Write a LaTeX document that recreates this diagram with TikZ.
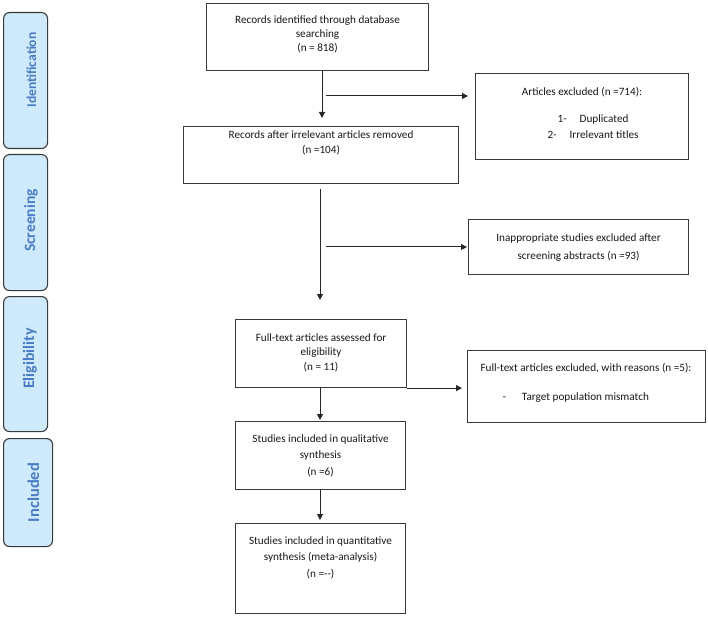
\documentclass[tikz,border=0pt]{standalone}
\usepackage{fontspec}
\setmainfont{Carlito}
\usetikzlibrary{arrows.meta}
\definecolor{phasefill}{HTML}{CFEAFB}
\definecolor{phasetext}{HTML}{4A7CC6}
\definecolor{edge}{HTML}{3A3A3A}
\newcommand{\bxc}[5]{\parbox[c][#2pt][t]{#1pt}{\centering\fontsize{11.2}{#4}\selectfont\vspace*{#3pt}\strut #5}}
\newcommand{\bxl}[5]{\parbox[c][#2pt][t]{#1pt}{\raggedright\fontsize{11.2}{#4}\selectfont\vspace*{#3pt}\strut #5}}
\tikzset{
  box/.style={draw=edge, line width=1.1pt, inner sep=0pt, anchor=north west, fill=white, text=black!90},
  phase/.style={draw=edge, line width=1.1pt, fill=phasefill, rounded corners=6pt, inner sep=0pt, anchor=north west},
  ptext/.style={text=phasetext, rotate=90, inner sep=0pt, anchor=base},
  arr/.style={-{Triangle[length=6pt,width=6pt]}, line width=1pt, draw=black!85}
}
\begin{document}
\begin{tikzpicture}[x=1pt,y=-1pt]
\useasboundingbox (0,0) rectangle (708,617);
% phase boxes
\node[phase, minimum width=44pt, minimum height=136pt] (ph1) at (3,12) {};
\node[phase, minimum width=44pt, minimum height=136pt] (ph2) at (3,154) {};
\node[phase, minimum width=44pt, minimum height=135pt] (ph3) at (3,296) {};
\node[phase, minimum width=49pt, minimum height=108pt] (ph4) at (3,438) {};
\node[ptext, font=\fontsize{13.6}{16}\selectfont\bfseries] (ph1t) at (36,70) {Identification};
\node[ptext, font=\fontsize{15.6}{18}\selectfont\bfseries] (ph2t) at (35,220.5) {Screening};
\node[ptext, font=\fontsize{16}{18}\selectfont\bfseries] (ph3t) at (34,358.5) {Eligibility};
\node[ptext, font=\fontsize{16.5}{19}\selectfont\bfseries] (ph4t) at (39,492.5) {Included};
% main boxes
\node[box] (b1) at (206,3) {\bxc{222}{67}{9.7}{14}{Records identified through database\\searching\\(n = 818)}};
\node[box] (b2) at (183,126) {\bxc{275}{57}{1}{15}{Records after irrelevant articles removed\\(n =104)}};
\node[box] (ex1) at (475,73) {\bxc{213}{86}{11.7}{14}{Articles excluded (n =714):\\[13pt]\hspace*{22pt}1-\hspace{13pt}Duplicated\\[2pt]\hspace*{22pt}2-\hspace{13pt}Irrelevant titles}};
\node[box] (ex2) at (468,219) {\bxc{220}{55}{8.9}{18}{Inappropriate studies excluded after\\screening abstracts (n =93)}};
\node[box] (b3) at (235,319) {\bxc{171}{68}{11.35}{14.5}{Full-text articles assessed for\\eligibility\\(n = 11)}};
\node[box] (ex3) at (467,350) {\bxl{238}{72}{10.35}{14.5}{\hspace*{13pt}Full-text articles excluded, with reasons (n =5):\\[14.5pt]\hspace*{35pt}-\hspace{16pt}Target population mismatch}};
\node[box] (b4) at (235,421) {\bxc{170}{68}{8.95}{16.5}{Studies included in qualitative\\synthesis\\(n =6)}};
\node[box] (b5) at (235,523) {\bxc{170}{90}{8.8}{16.7}{Studies included in quantitative\\synthesis (meta-analysis)\\(n =-{}-)}};
% connectors
\coordinate (v1) at (322,96);
\coordinate (v2) at (320,247);
\coordinate (v3) at (320,387);
\draw[arr, shorten >=8pt] (b1.south -| v1) -- (b2.north -| v1);
\draw[arr, shorten <=4pt, shorten >=7pt] (v1) -- (v1 -| ex1.west);
\draw[arr, shorten <=5pt, shorten >=19pt] (b2.south -| v2) -- (b3.north -| v2);
\draw[arr, shorten <=6pt, shorten >=1pt] (v2) -- (v2 -| ex2.west);
\draw[arr, shorten >=1pt] (b3.south -| v3) -- (b4.north -| v3);
\draw[arr, shorten >=5pt] (b3.south east) -- (b3.south east -| ex3.west);
\draw[arr, shorten >=3pt] (b4.south -| v3) -- (b5.north -| v3);
\end{tikzpicture}
\end{document}
